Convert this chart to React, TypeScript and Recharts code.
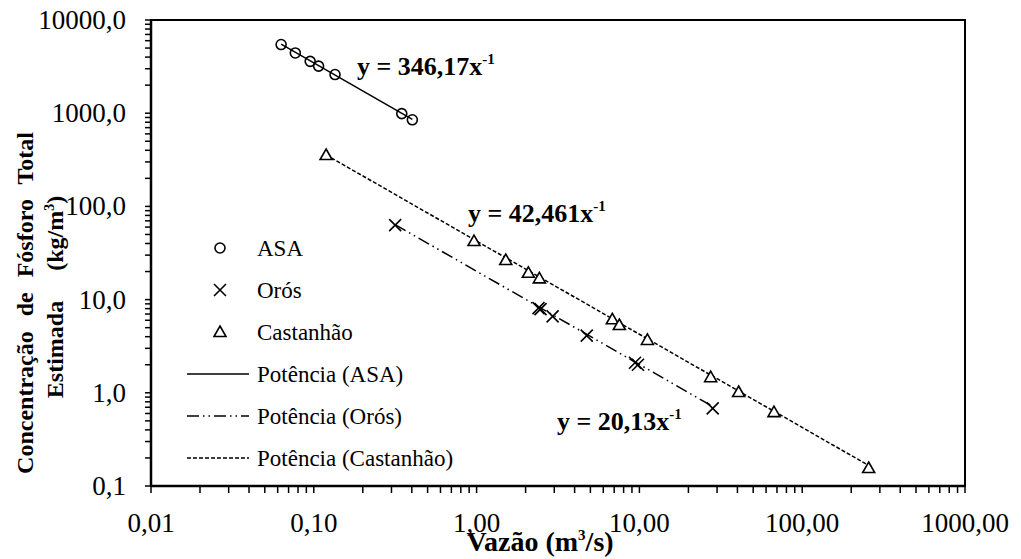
import React from 'react';
import { ScatterChart, Scatter, XAxis, YAxis, ReferenceArea, Customized } from 'recharts';

// measured points (vazão m3/s, concentração kg/m3)
const asaX = [0.063, 0.077, 0.095, 0.107, 0.135, 0.347, 0.403];
const asaY = [5450, 4430, 3600, 3200, 2600, 990, 850];

const orosX = [0.316, 2.4, 2.47, 2.93, 4.75, 9.4, 9.8, 28.2];
const orosY = [63, 8.1, 7.9, 6.6, 4.1, 2.1, 2.0, 0.68];

const castX = [0.119, 0.964, 1.51, 2.08, 2.43, 6.82, 7.53, 11.2, 27.4, 40.7, 67.1, 256];
const castY = [356, 42.5, 26.6, 19.4, 16.9, 6.15, 5.34, 3.69, 1.47, 1.02, 0.62, 0.156];

// trend line end points (Potência)
const asaTrendX = [0.063, 0.403];
const asaTrendY = [5500, 860];
const orosTrendX = [0.316, 28.2];
const orosTrendY = [63.7, 0.714];
const castTrendX = [0.119, 256];
const castTrendY = [357, 0.166];

const xMajor = [0.01, 0.1, 1, 10, 100, 1000];
const xMajorLabels = ['0,01', '0,10', '1,00', '10,00', '100,00', '1000,00'];
const yMajor = [0.1, 1, 10, 100, 1000, 10000];
const yMajorLabels = ['0,1', '1,0', '10,0', '100,0', '1000,0', '10000,0'];

const FONT = '"Liberation Serif", "Times New Roman", serif';

const withMinors = (major: number[]) => {
  const out: number[] = [];
  major.forEach((d, i) => {
    out.push(d);
    if (i < major.length - 1) {
      for (let m = 2; m <= 9; m++) out.push(+(d * m).toPrecision(6));
    }
  });
  return out;
};
const xTicks = withMinors(xMajor);
const yTicks = withMinors(yMajor);

const zip = (xs: number[], ys: number[]) => xs.map((x, i) => ({ x, y: ys[i] }));
const asaData = zip(asaX, asaY);
const orosData = zip(orosX, orosY);
const castData = zip(castX, castY);
const asaTrend = zip(asaTrendX, asaTrendY);
const orosTrend = zip(orosTrendX, orosTrendY);
const castTrend = zip(castTrendX, castTrendY);

const findLabel = (v: number, major: number[], labels: string[]) => {
  const i = major.findIndex((m) => Math.abs(m - v) / m < 1e-6);
  return i >= 0 ? labels[i] : null;
};

const XTick = ({ x, payload }: any) => {
  const lbl = findLabel(payload.value, xMajor, xMajorLabels);
  if (!lbl) return <g />;
  return (
    <text x={x} y={532} textAnchor="middle" fontFamily={FONT} fontSize={27} fill="#000">
      {lbl}
    </text>
  );
};

const YTick = ({ y, payload }: any) => {
  const lbl = findLabel(payload.value, yMajor, yMajorLabels);
  if (!lbl) return <g />;
  return (
    <text x={126} y={y} dy={9} textAnchor="end" fontFamily={FONT} fontSize={27} fill="#000">
      {lbl}
    </text>
  );
};

const Circle = ({ cx, cy }: any) => (
  <circle cx={cx} cy={cy} r={5} fill="none" stroke="#000" strokeWidth={1.6} />
);
const Cross = ({ cx, cy }: any) => (
  <path d={`M${cx - 6},${cy - 6}L${cx + 6},${cy + 6}M${cx - 6},${cy + 6}L${cx + 6},${cy - 6}`} stroke="#000" strokeWidth={1.6} fill="none" />
);
const Tri = ({ cx, cy }: any) => (
  <path d={`M${cx},${cy - 6}L${cx + 6},${cy + 4.5}L${cx - 6},${cy + 4.5}Z`} stroke="#000" strokeWidth={1.6} fill="#fff" />
);
const NoShape = () => <g />;

const legendRows = [
  { label: 'ASA', kind: 'circle' },
  { label: 'Orós', kind: 'cross' },
  { label: 'Castanhão', kind: 'tri' },
  { label: 'Potência (ASA)', kind: 'solid' },
  { label: 'Potência (Orós)', kind: 'dashdot' },
  { label: 'Potência (Castanhão)', kind: 'dash' },
];

const Overlay = () => {
  const rowY = [248, 290, 332, 374, 416, 458];
  return (
    <g fontFamily={FONT} fill="#000">
      {legendRows.map((r, i) => {
        const y = rowY[i];
        let sym: React.ReactNode = null;
        if (r.kind === 'circle') sym = <Circle cx={220} cy={y} />;
        if (r.kind === 'cross') sym = <Cross cx={220} cy={y} />;
        if (r.kind === 'tri') sym = <Tri cx={220} cy={y} />;
        if (r.kind === 'solid') sym = <line x1={187} x2={249} y1={y} y2={y} stroke="#000" strokeWidth={1.5} />;
        if (r.kind === 'dashdot') sym = <line x1={187} x2={249} y1={y} y2={y} stroke="#000" strokeWidth={1.5} strokeDasharray="12 4 1.5 4 1.5 4" />;
        if (r.kind === 'dash') sym = <line x1={187} x2={249} y1={y} y2={y} stroke="#000" strokeWidth={1.5} strokeDasharray="4 2" />;
        return (
          <g key={r.label}>
            {sym}
            <text x={257} y={y + 8} fontSize={23}>{r.label}</text>
          </g>
        );
      })}
      <text x={357} y={75} fontSize={26} fontWeight="bold">
        y = 346,17x<tspan fontSize={15} dy={-11}>-1</tspan>
      </text>
      <text x={468} y={222} fontSize={26} fontWeight="bold">
        y = 42,461x<tspan fontSize={15} dy={-11}>-1</tspan>
      </text>
      <text x={557} y={430} fontSize={26} fontWeight="bold">
        y = 20,13x<tspan fontSize={15} dy={-11}>-1</tspan>
      </text>
      <text x={540} y={551} fontSize={28} fontWeight="bold" textAnchor="middle">
        Vazão (m<tspan fontSize={15} dy={-11}>3</tspan><tspan dy={11}>/s)</tspan>
      </text>
      <text transform="translate(33,303) rotate(-90)" fontSize={24} fontWeight="bold" textAnchor="middle" wordSpacing={9}>
        Concentração de Fósforo Total
      </text>
      <text transform="translate(63,297) rotate(-90)" fontSize={24} fontWeight="bold" textAnchor="middle" wordSpacing={24}>
        Estimada (kg/m<tspan fontSize={14} dy={-9}>3</tspan><tspan dy={9}>)</tspan>
      </text>
    </g>
  );
};

export default function App() {
  return (
    <div style={{ position: 'absolute', left: 0, top: 0, background: '#fff' }}>
      <ScatterChart width={1021} height={559} margin={{ top: 20, right: 56, bottom: 13, left: 11 }}>
        <XAxis
          type="number"
          dataKey="x"
          scale="log"
          domain={[0.01, 1000]}
          ticks={xTicks}
          interval={0}
          allowDataOverflow
          height={60}
          tickSize={7}
          tick={<XTick />}
          axisLine={{ stroke: '#000', strokeWidth: 2.5 }}
          tickLine={{ stroke: '#000', strokeWidth: 1.5 }}
        />
        <YAxis
          type="number"
          dataKey="y"
          scale="log"
          domain={[0.1, 10000]}
          ticks={yTicks}
          interval={0}
          allowDataOverflow
          width={140}
          tickSize={6}
          tick={<YTick />}
          axisLine={{ stroke: '#000', strokeWidth: 2.5 }}
          tickLine={{ stroke: '#000', strokeWidth: 1.5 }}
        />
        <ReferenceArea x1={0.01} x2={1000} y1={0.1} y2={10000} fill="none" stroke="#000" strokeWidth={2} />
        <Scatter data={asaTrend} shape={NoShape} line={{ stroke: '#000', strokeWidth: 1.5 }} isAnimationActive={false} />
        <Scatter data={orosTrend} shape={NoShape} line={{ stroke: '#000', strokeWidth: 1.5, strokeDasharray: '12 4 1.5 4 1.5 4' }} isAnimationActive={false} />
        <Scatter data={castTrend} shape={NoShape} line={{ stroke: '#000', strokeWidth: 1.5, strokeDasharray: '4 2' }} isAnimationActive={false} />
        <Scatter data={asaData} shape={Circle} isAnimationActive={false} />
        <Scatter data={orosData} shape={Cross} isAnimationActive={false} />
        <Scatter data={castData} shape={Tri} isAnimationActive={false} />
        <Customized component={Overlay} />
      </ScatterChart>
    </div>
  );
}
